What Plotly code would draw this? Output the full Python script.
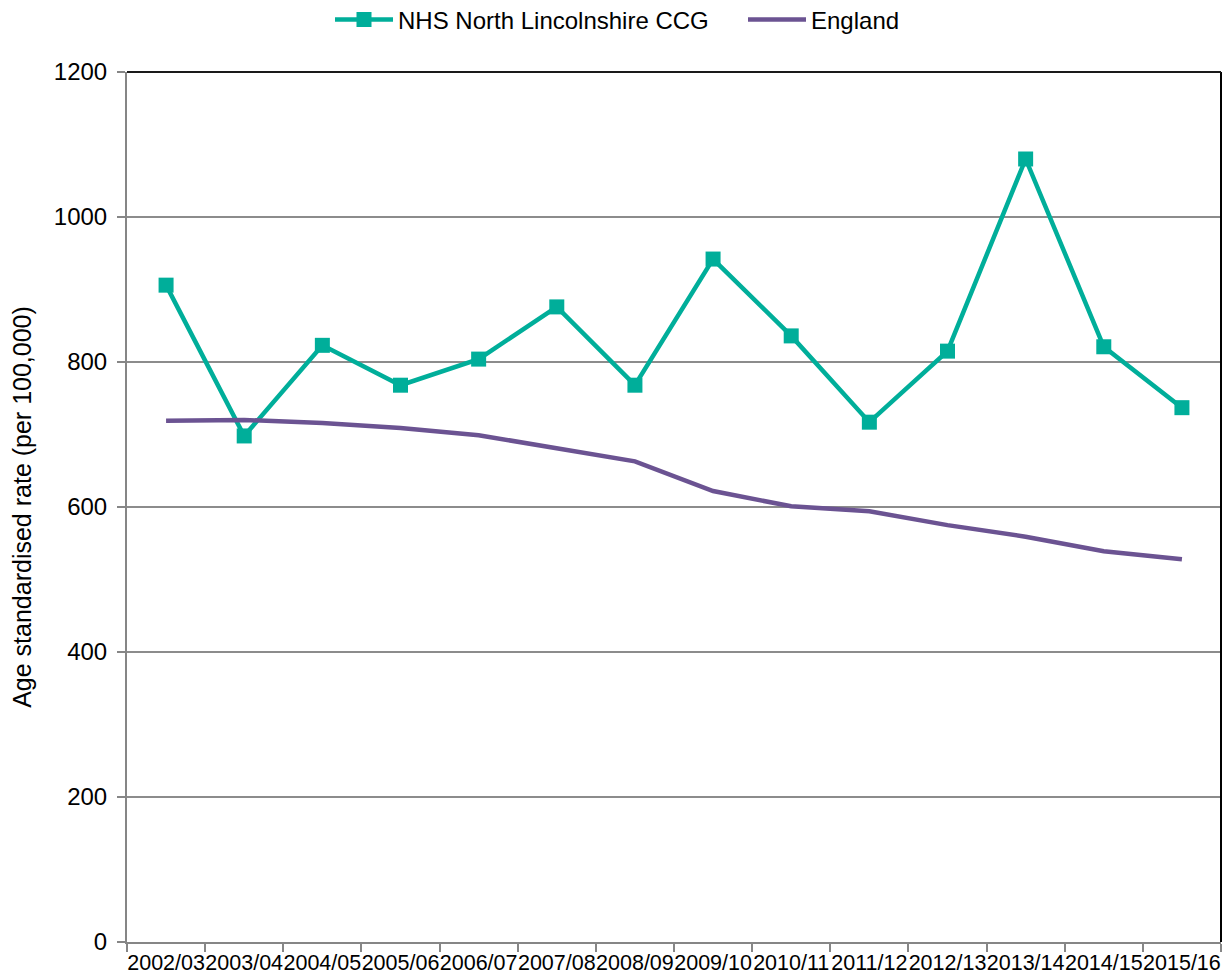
import plotly.graph_objects as go

years = ['2002/03', '2003/04', '2004/05', '2005/06', '2006/07', '2007/08', '2008/09',
         '2009/10', '2010/11', '2011/12', '2012/13', '2013/14', '2014/15', '2015/16']
ccg = [906, 698, 823, 768, 804, 876, 768, 942, 836, 717, 815, 1080, 821, 737]
england = [719, 720, 716, 709, 699, 681, 663, 622, 601, 594, 575, 559, 539, 528]

fam = 'Liberation Sans, Arial'

fig = go.Figure()
fig.add_trace(go.Scatter(x=years, y=ccg, name='NHS North Lincolnshire CCG', mode='lines+markers',
                         line=dict(color='#00AE9A', width=4.5),
                         marker=dict(symbol='square', size=15, color='#00AE9A')))
fig.add_trace(go.Scatter(x=years, y=england, name='England', mode='lines',
                         line=dict(color='#6B5392', width=4.5)))

# the page body adds an 8px offset, so margins are set relative to that
W, H = 1223, 980
fig.update_layout(
    width=W, height=H,
    plot_bgcolor='white', paper_bgcolor='white',
    font=dict(family=fam, size=22, color='black'),
    margin=dict(l=119, r=10, t=64, b=46, autoexpand=False),
    showlegend=True,
    legend=dict(orientation='h', xref='container', yref='container',
                x=322 / W, xanchor='left', y=1 - 12 / H, yanchor='middle',
                font=dict(family=fam, size=24, color='black'), itemwidth=58,
                entrywidth=340, entrywidthmode='pixels'),
)
fig.update_xaxes(type='category', range=[-0.5, 13.5], tickson='boundaries',
                 ticks='outside', ticklen=8,
                 tickcolor='#868686', tickwidth=2, tickangle=0,
                 showline=True, linecolor='#868686', linewidth=2,
                 showgrid=False, tickfont=dict(family=fam, size=21.5, color='black'))
fig.update_yaxes(range=[0, 1200], dtick=200, ticks='outside', ticklen=8,
                 tickcolor='#868686', tickwidth=2,
                 showline=True, linecolor='#868686', linewidth=2,
                 gridcolor='#8c8c8c', gridwidth=1.5, zeroline=False,
                 ticklabelstandoff=5,
                 title=dict(text='Age standardised rate (per 100,000)',
                            font=dict(family=fam, size=25, color='black'), standoff=16),
                 tickfont=dict(family=fam, size=24, color='black'))
# dark border on the top and right of the plot area
fig.add_shape(type='line', xref='paper', yref='paper', x0=1, x1=1, y0=0, y1=1,
              line=dict(color='black', width=2))
fig.add_shape(type='line', xref='paper', yref='paper', x0=0, x1=1, y0=1, y1=1,
              line=dict(color='#1a1a1a', width=2))

fig.write_html('out.html')
